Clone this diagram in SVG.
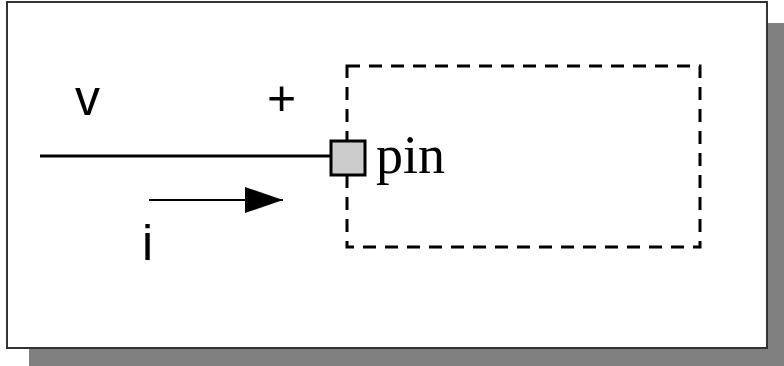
<svg xmlns="http://www.w3.org/2000/svg" width="784" height="366" viewBox="0 0 784 366">
  <style>
    .sans { font-family: "Liberation Sans", Arial, sans-serif; font-size: 50px; fill: #000; }
    .serif { font-family: "Liberation Serif", "Times New Roman", serif; font-size: 54px; fill: #000; }
    .wire { stroke: #000; stroke-width: 3; fill: none; }
    .dash { stroke: #000; stroke-width: 3; fill: none; stroke-dasharray: 13 9; }
  </style>
  <defs>
    <marker id="arrowhead" markerUnits="userSpaceOnUse" markerWidth="40" markerHeight="26" refX="38" refY="13" orient="auto">
      <polygon points="0,0 38,13 0,26" fill="#000"/>
    </marker>
  </defs>

  <!-- drop shadow and frame -->
  <rect x="29" y="23" width="755" height="343" fill="#808080"/>
  <rect x="7" y="2" width="760" height="346" fill="#fff" stroke="#333" stroke-width="2"/>

  <!-- component boundary -->
  <g id="component">
    <rect class="dash" x="347" y="66" width="353" height="181"/>
  </g>

  <g id="connectors">
    <line class="wire" x1="40" y1="156" x2="331" y2="156"/>
    <line x1="149" y1="200" x2="283" y2="200" stroke="#000" stroke-width="2" marker-end="url(#arrowhead)"/>
  </g>

  <!-- pin terminal -->
  <g id="pin">
    <rect x="331" y="141" width="34" height="34" fill="#ccc" stroke="#000" stroke-width="3"/>
    <text class="serif" x="376" y="173">pin</text>
  </g>

  <g id="labels">
    <text class="sans" x="75" y="115">v</text>
    <text class="sans" x="267" y="115">+</text>
    <text class="sans" x="142" y="260">i</text>
  </g>
</svg>
